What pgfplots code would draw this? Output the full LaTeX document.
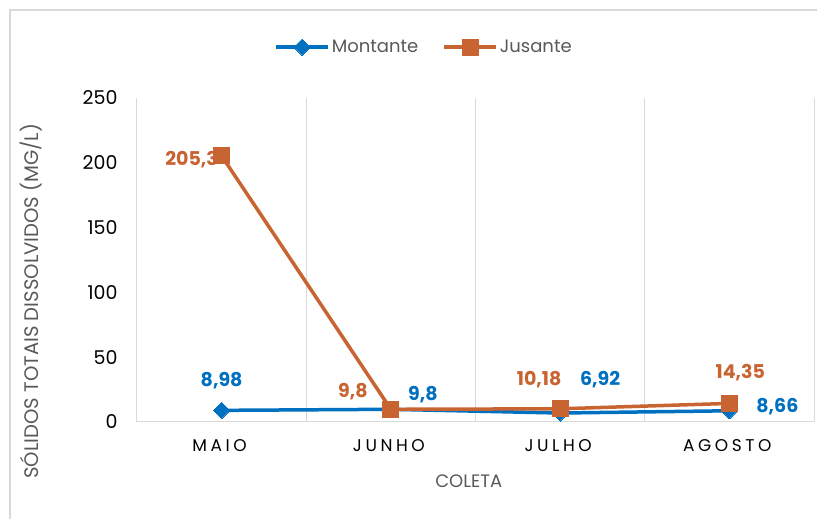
\documentclass[border=0pt]{standalone}
\usepackage{fontspec}
\setmainfont{Poppins}
\usepackage{pgfplots}
\usepackage{pgfplotstable}
\pgfplotsset{compat=1.18}
\definecolor{mblue}{RGB}{0,112,192}
\definecolor{jorange}{RGB}{200,100,50}
\definecolor{txtgray}{RGB}{89,89,89}
\definecolor{gridgray}{RGB}{217,217,217}
\newfontfamily\spaced[LetterSpace=21]{Poppins}

\pgfplotstableread{
x y lab dx dy
0 8.98 8,98 0 30
1 9.8 9,8 32 15
2 6.92 6,92 40 33
3 8.66 8,66 48 4
}\montante

\pgfplotstableread{
x y lab dx dy
0 205.3 205,3 -30 -4
1 9.8 9,8 -38 18
2 10.18 10,18 -21 29
3 14.35 14,35 11 31
}\jusante

\begin{document}
\begin{tikzpicture}
\useasboundingbox (0,0) rectangle (817pt,519pt);
\fill[white] (0,0) rectangle (817pt,519pt);
\draw[gridgray, line width=1.2pt] (10pt,0) -- (10pt,509pt) -- (817pt,509pt);
\begin{axis}[
  at={(137pt,97pt)}, anchor=south west,
  scale only axis, width=677pt, height=324pt,
  xmin=-0.5, xmax=3.5, ymin=0, ymax=250,
  xtick={0,1,2,3}, xticklabels={MAIO,JUNHO,JULHO,AGOSTO},
  ytick={0,50,100,150,200,250},
  minor xtick={0.5,1.5,2.5,3.5},
  xminorgrids=true,
  minor grid style={gridgray, line width=1pt},
  major tick length=0pt, minor tick length=0pt,
  axis x line*=bottom, axis y line*=left,
  axis line style={gridgray, line width=1pt, -},
  /pgf/number format/assume math mode=true,
  yticklabel style={font=\fontsize{19}{19}\selectfont, text=black, anchor=east, xshift=-16pt},
  xticklabel style={font=\fontsize{17}{17}\spaced, text=black, anchor=center, yshift=-24pt, xshift=-2pt},
  xlabel={COLETA},
  xlabel style={font=\fontsize{18}{18}\selectfont, text=txtgray, at={(axis description cs:0.49,0)}, anchor=center, yshift=-59pt},
  ylabel={SÓLIDOS TOTAIS DISSOLVIDOS (MG/L)},
  ylabel style={font=\fontsize{19.6}{19.6}\selectfont, text=txtgray, at={(axis description cs:-0.156,0.373)}, anchor=center},
  legend style={at={(0.424,1.157)}, anchor=center, draw=none, fill=none,
    legend columns=2, font=\fontsize{18}{18}\selectfont, text=txtgray,
    /tikz/every even column/.append style={column sep=22pt}},
  legend image code/.code={\draw[mark repeat=2, mark phase=2] plot coordinates {(0pt,0pt) (26pt,0pt) (52pt,0pt)};},
  clip=false,
]
% data labels (drawn first so markers lie over them)
\addplot[draw=none, mark=none, forget plot, point meta=explicit symbolic,
  nodes near coords,
  visualization depends on={\thisrow{dx}\as\dx},
  visualization depends on={\thisrow{dy}\as\dy},
  every node near coord/.append style={anchor=center, xshift=\dx pt, yshift=\dy pt, font=\fontsize{19}{19}\selectfont\bfseries, text=mblue, inner sep=0pt}]
  table[x=x, y=y, meta=lab]{\montante};
\addplot[draw=none, mark=none, forget plot, point meta=explicit symbolic,
  nodes near coords,
  visualization depends on={\thisrow{dx}\as\dx},
  visualization depends on={\thisrow{dy}\as\dy},
  every node near coord/.append style={anchor=center, xshift=\dx pt, yshift=\dy pt, font=\fontsize{19}{19}\selectfont\bfseries, text=jorange, inner sep=0pt}]
  table[x=x, y=y, meta=lab]{\jusante};
\addplot[mblue, line width=3.5pt, mark=square*, mark size=5.7pt, mark options={rotate=45, line width=0pt, fill=mblue}]
  table[x=x, y=y]{\montante};
\addlegendentry{Montante}
\addplot[jorange, line width=3.5pt, mark=square*, mark size=8pt, mark options={line width=0pt, fill=jorange}]
  table[x=x, y=y]{\jusante};
\addlegendentry{Jusante}
\end{axis}
\end{tikzpicture}
\end{document}
